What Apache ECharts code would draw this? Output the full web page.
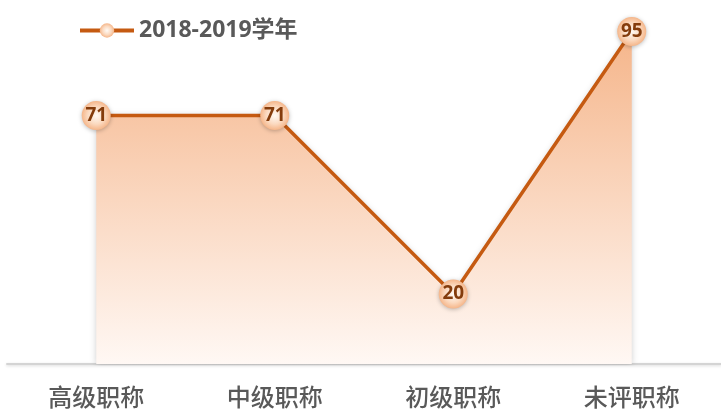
<!DOCTYPE html>
<html><head><meta charset="utf-8">
<script src="https://cdn.jsdelivr.net/npm/echarts@6/dist/echarts.min.js"></script>
<style>html,body{margin:0;padding:0;background:#fff}#c{width:721px;height:412px}</style>
</head><body><div id="c"></div>
<script>
const categories = ['高级职称', '中级职称', '初级职称', '未评职称'];
const seriesName = '2018-2019学年';
const values = [71, 71, 20, 95];

const chart = echarts.init(document.getElementById('c'));
const markerColor = {
  type: 'radial', x: 0.5, y: 0.5, r: 0.5,
  colorStops: [{offset: 0, color: '#fffaf5'}, {offset: 0.6, color: '#fbd9bf'}, {offset: 1, color: '#f5b68a'}]
};
chart.setOption({
  animation: false,
  legend: {
    left: 73, top: 14, itemWidth: 54, itemHeight: 18, itemGap: 4,
    lineStyle: {width: 4, color: '#c55a11'},
    textStyle: {fontFamily: 'Open Sans, Noto Sans CJK SC', fontWeight: 'bold', fontSize: 23, color: '#595959'},
    data: [seriesName]
  },
  grid: {left: 7, right: -5, top: 14, bottom: 48, containLabel: false},
  xAxis: {
    type: 'category', data: categories, boundaryGap: true,
    axisLine: {lineStyle: {color: '#d4d4d4', width: 2, shadowColor: 'rgba(0,0,0,0.15)', shadowBlur: 3, shadowOffsetY: 1}},
    axisTick: {show: false},
    axisLabel: {color: '#595959', fontSize: 24, margin: 21, fontFamily: 'Noto Sans CJK SC', fontWeight: 500}
  },
  yAxis: {type: 'value', min: 0, max: 100, show: false, splitLine: {show: false}},
  series: [{
    name: seriesName, type: 'line', data: values,
    symbol: 'circle', symbolSize: 29,
    itemStyle: {color: markerColor, borderWidth: 0, shadowColor: 'rgba(0,0,0,0.25)', shadowBlur: 4, shadowOffsetY: 1},
    lineStyle: {color: '#c55a11', width: 3.5},
    label: {show: true, position: 'inside', color: '#843c0c', fontWeight: 'bold', fontSize: 19, fontFamily: 'Open Sans, Noto Sans'},
    areaStyle: {
      opacity: 1,
      color: {type: 'linear', x: 0, y: 0, x2: 0, y2: 1,
        colorStops: [{offset: 0, color: '#f5b58a'}, {offset: 1, color: '#fff8f4'}]},
      shadowColor: 'rgba(0,0,0,0.2)', shadowBlur: 6
    },
    z: 3
  }]
});
</script></body></html>
